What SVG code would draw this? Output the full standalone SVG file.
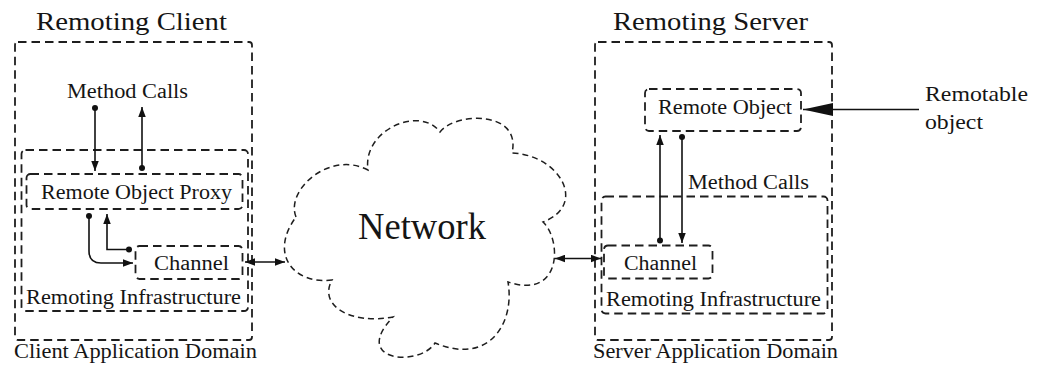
<svg xmlns="http://www.w3.org/2000/svg" width="1039" height="371" viewBox="0 0 1039 371">
<style>
  .box { fill: none; stroke: #1e1e1e; stroke-width: 1.8; stroke-dasharray: 8.5 5; }
  .cloud { fill: none; stroke: #1e1e1e; stroke-width: 1.5; stroke-dasharray: 6 4; }
  .conn { fill: none; stroke: #111; stroke-width: 1.6; }
  text { font-family: "Liberation Serif", "Times New Roman", serif; fill: #151515; }
  .t26 { font-size: 26px; }
  .t20 { font-size: 20.5px; }
  .t21 { font-size: 21.5px; }
</style>
<defs>
  <marker id="arr" markerUnits="userSpaceOnUse" markerWidth="10" markerHeight="8" refX="8" refY="3" orient="auto-start-reverse" viewBox="0 0 8 6">
    <path d="M0,0 L8,3 L0,6 z" fill="#111"/>
  </marker>
  <marker id="dot" markerUnits="userSpaceOnUse" markerWidth="7" markerHeight="7" refX="3.5" refY="3.5" viewBox="0 0 7 7">
    <circle cx="3.5" cy="3.5" r="3" fill="#111"/>
  </marker>
  <marker id="big" markerUnits="userSpaceOnUse" markerWidth="30" markerHeight="14" refX="30" refY="6.5" orient="auto" viewBox="0 0 30 13">
    <path d="M0,0 L30,6.5 L0,13 z" fill="#111"/>
  </marker>
</defs>

<g id="client">
  <text class="t26" x="36" y="30" textLength="191" lengthAdjust="spacingAndGlyphs">Remoting Client</text>
  <rect class="box" x="15" y="42" width="237" height="298" rx="3"/>
  <text class="t21" x="14" y="358" textLength="243" lengthAdjust="spacingAndGlyphs">Client Application Domain</text>
</g>
<g id="client-method-calls">
  <text class="t20" x="67" y="98" textLength="121" lengthAdjust="spacingAndGlyphs">Method Calls</text>
</g>
<g id="client-infra">
  <rect class="box" x="21.5" y="150" width="226.5" height="161" rx="4"/>
  <text class="t20" x="26" y="304" textLength="215" lengthAdjust="spacingAndGlyphs">Remoting Infrastructure</text>
</g>
<g id="client-proxy">
  <rect class="box" x="26.5" y="174" width="216" height="35" rx="4"/>
  <text class="t20" x="41" y="199" textLength="191" lengthAdjust="spacingAndGlyphs">Remote Object Proxy</text>
</g>
<g id="client-channel">
  <rect class="box" x="135.5" y="246" width="107" height="33" rx="4"/>
  <text class="t20" x="154" y="270" textLength="75" lengthAdjust="spacingAndGlyphs">Channel</text>
</g>

<g id="network">
  <path class="cloud" d="M296,217 C285,190 330,150 368,170 C362,130 420,105 440,132 C455,112 522,110 512,153 C560,155 588,205 543,222 C562,240 562,300 508,282 C515,322 490,366 435,343 C420,367 350,362 393,317 C350,325 318,305 332,280 C295,285 268,255 296,217 Z"/>
  <text x="358" y="239" font-size="37" textLength="128" lengthAdjust="spacingAndGlyphs">Network</text>
</g>

<g id="server">
  <text class="t26" x="613" y="30" textLength="195" lengthAdjust="spacingAndGlyphs">Remoting Server</text>
  <rect class="box" x="595" y="42" width="237" height="298" rx="3"/>
  <text class="t21" x="593" y="358" textLength="245" lengthAdjust="spacingAndGlyphs">Server Application Domain</text>
</g>
<g id="remote-object">
  <rect class="box" x="645" y="89" width="156" height="42" rx="4"/>
  <text class="t20" x="658" y="114" textLength="134" lengthAdjust="spacingAndGlyphs">Remote Object</text>
</g>
<g id="server-method-calls">
  <text class="t20" x="688" y="189" textLength="121" lengthAdjust="spacingAndGlyphs">Method Calls</text>
</g>
<g id="server-infra">
  <rect class="box" x="601.5" y="196.5" width="226" height="117" rx="4"/>
  <text class="t20" x="606" y="306" textLength="215" lengthAdjust="spacingAndGlyphs">Remoting Infrastructure</text>
</g>
<g id="server-channel">
  <rect class="box" x="604" y="245.5" width="108.5" height="33" rx="4"/>
  <text class="t20" x="624" y="270" textLength="73" lengthAdjust="spacingAndGlyphs">Channel</text>
</g>
<g id="remotable-label">
  <text class="t21" x="925" y="101" textLength="103" lengthAdjust="spacingAndGlyphs">Remotable</text>
  <text class="t21" x="925" y="129" textLength="58" lengthAdjust="spacingAndGlyphs">object</text>
</g>

<g id="connectors">
  <path class="conn" d="M95,108 V171" marker-start="url(#dot)" marker-end="url(#arr)"/>
  <path class="conn" d="M142,168 V107" marker-start="url(#dot)" marker-end="url(#arr)"/>
  <path class="conn" d="M89,216 V251 Q89,263 101,263 H133" marker-start="url(#dot)" marker-end="url(#arr)"/>
  <path class="conn" d="M129,249.5 H107 V214" marker-start="url(#dot)" marker-end="url(#arr)"/>
  <path class="conn" d="M245,262 H285" marker-start="url(#arr)" marker-end="url(#arr)"/>
  <path class="conn" d="M555,258.5 H601" marker-start="url(#arr)" marker-end="url(#arr)"/>
  <path class="conn" d="M660,240.5 V135" marker-start="url(#dot)" marker-end="url(#arr)"/>
  <path class="conn" d="M682,137 V243" marker-start="url(#dot)" marker-end="url(#arr)"/>
  <path class="conn" d="M919,109.5 H803" marker-end="url(#big)"/>
</g>
</svg>
